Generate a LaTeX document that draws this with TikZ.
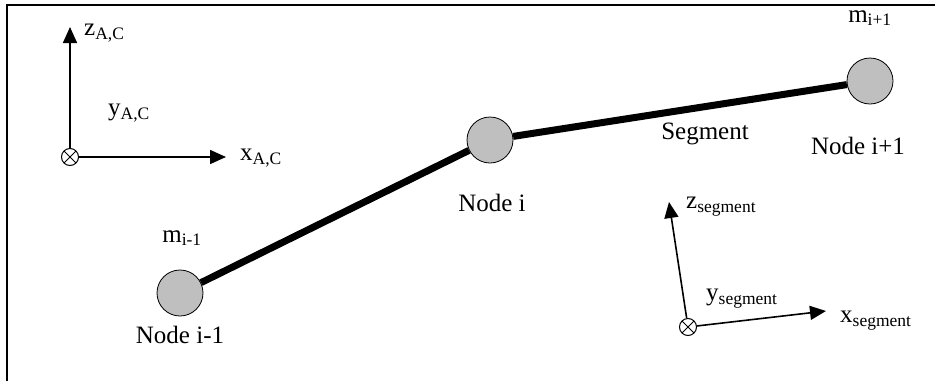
\documentclass[tikz,border=0pt]{standalone}
\usepackage{fontspec}
\setmainfont{Liberation Serif}
\usetikzlibrary{arrows.meta}
\begin{document}
\begin{tikzpicture}[x=1pt,y=-1pt,
  mass/.style={circle,draw=black,line width=0.8pt,fill=gray!50,minimum size=46pt,inner sep=0pt},
  seg/.style={line width=7pt},
  axis/.style={line width=1.6pt,-{Triangle[length=16pt,width=14pt]}},
  lbl/.style={font=\fontsize{25}{27}\selectfont,inner sep=0pt},
  orig/.style={circle,draw=black,line width=1pt,minimum size=17pt,inner sep=0pt,path picture={\draw[line width=1pt] (path picture bounding box.north west)--(path picture bounding box.south east) (path picture bounding box.north east)--(path picture bounding box.south west);}}
]
\useasboundingbox (0,0) rectangle (938,381);
\draw[line width=2pt] (7,381) -- (7,5) -- (935,5);
% masses
\node[mass] (n1) at (180,293) {};
\node[mass] (n2) at (490,140) {};
\node[mass] (n3) at (870,81) {};
\draw[seg] (n1) -- (n2);
\draw[seg] (n2) -- (n3);
\node[lbl] (m1) at (182,238) {m\textsubscript{i-1}};
\node[lbl] (l1) at (180,335) {Node i-1};
\node[lbl] (l2) at (492,203) {Node i};
\node[lbl] (sg) at (705,134) {Segment};
\node[lbl] (l3) at (858,146) {Node i+1};
\node[lbl] (m3) at (870,18) {m\textsubscript{i+1}};
% AC axes
\node[orig] (oa) at (70,157) {};
\coordinate (za) at (70,27);
\coordinate (xa) at (226,157);
\draw[axis] (oa.north) -- (za);
\draw[axis] (oa.east) -- (xa);
\node[lbl,anchor=west] (zal) at (84,33) {z\textsubscript{A,C}};
\node[lbl,anchor=west] (yal) at (108,113) {y\textsubscript{A,C}};
\node[lbl,anchor=west] (xal) at (240,158) {x\textsubscript{A,C}};
% segment axes
\node[orig] (os) at (688,327) {};
\coordinate (zs) at (669,202);
\coordinate (xs) at (826,311);
\draw[axis] (os) -- (zs);
\draw[axis] (os) -- (xs);
\node[lbl,anchor=west] (zsl) at (686,207) {z\textsubscript{segment}};
\node[lbl,anchor=west] (ysl) at (706,299) {y\textsubscript{segment}};
\node[lbl,anchor=west] (xsl) at (840,321) {x\textsubscript{segment}};
\end{tikzpicture}
\end{document}
